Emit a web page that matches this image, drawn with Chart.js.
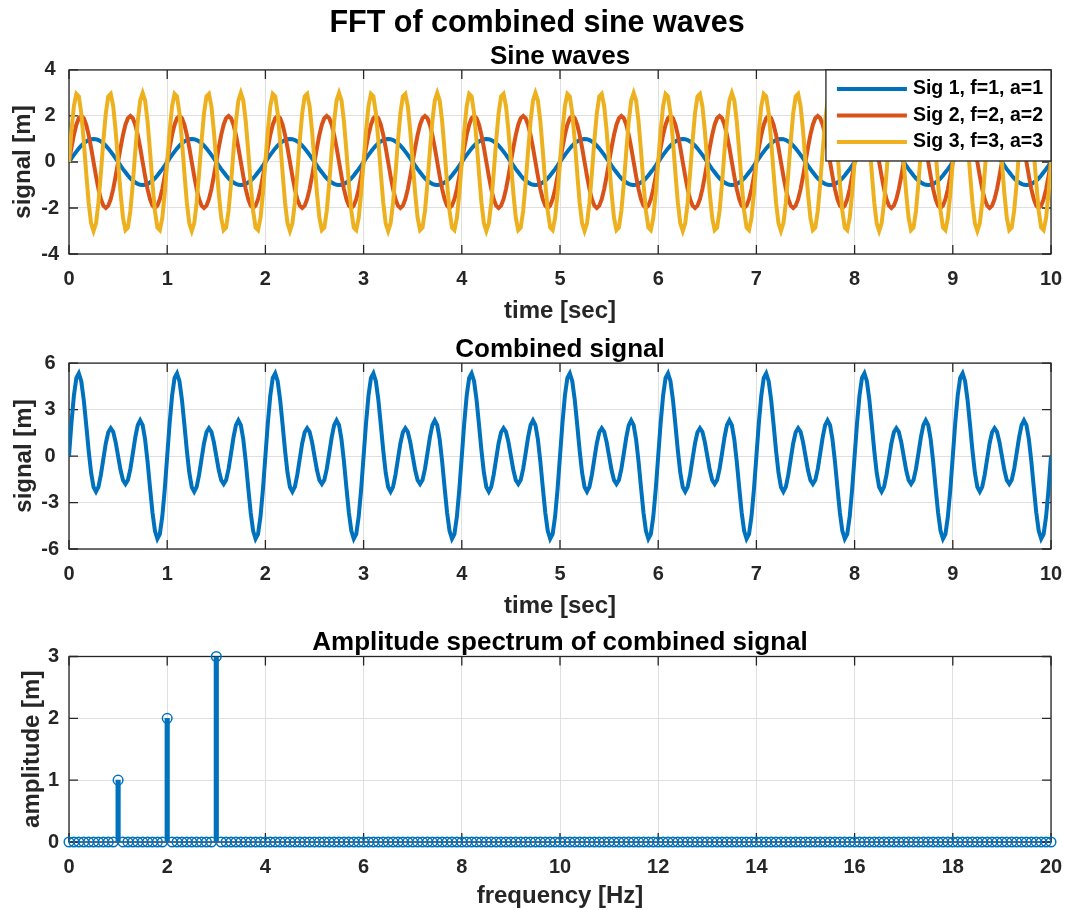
<!DOCTYPE html>
<html>
<head>
<meta charset="utf-8">
<title>FFT of combined sine waves</title>
<script src="https://cdn.jsdelivr.net/npm/chart.js@4.4.0/dist/chart.umd.min.js"></script>
<style>
  body { margin: 0; background: #fff; }
  #fig { position: relative; width: 1065px; height: 910px; overflow: hidden; }
  #fig canvas { position: absolute; left: 0; }
</style>
</head>
<body>
<div id="fig">
  <canvas id="waves" width="1065" height="330" style="top:0"></canvas>
  <canvas id="combined" width="1065" height="290" style="top:330px"></canvas>
  <canvas id="spectrum" width="1065" height="290" style="top:620px"></canvas>
</div>
<script>
// Samples are 40 Hz over 10 s (401 points). Every second looks the same on
// the plot, so each row below is one second of samples as read off it.

const timeSec = [
  0,0.025,0.05,0.075,0.1,0.125,0.15,0.175,0.2,0.225,0.25,0.275,0.3,0.325,0.35,0.375,0.4,0.425,0.45,0.475,0.5,0.525,0.55,0.575,0.6,0.625,0.65,0.675,0.7,0.725,0.75,0.775,0.8,0.825,0.85,0.875,0.9,0.925,0.95,0.975,
  1,1.025,1.05,1.075,1.1,1.125,1.15,1.175,1.2,1.225,1.25,1.275,1.3,1.325,1.35,1.375,1.4,1.425,1.45,1.475,1.5,1.525,1.55,1.575,1.6,1.625,1.65,1.675,1.7,1.725,1.75,1.775,1.8,1.825,1.85,1.875,1.9,1.925,1.95,1.975,
  2,2.025,2.05,2.075,2.1,2.125,2.15,2.175,2.2,2.225,2.25,2.275,2.3,2.325,2.35,2.375,2.4,2.425,2.45,2.475,2.5,2.525,2.55,2.575,2.6,2.625,2.65,2.675,2.7,2.725,2.75,2.775,2.8,2.825,2.85,2.875,2.9,2.925,2.95,2.975,
  3,3.025,3.05,3.075,3.1,3.125,3.15,3.175,3.2,3.225,3.25,3.275,3.3,3.325,3.35,3.375,3.4,3.425,3.45,3.475,3.5,3.525,3.55,3.575,3.6,3.625,3.65,3.675,3.7,3.725,3.75,3.775,3.8,3.825,3.85,3.875,3.9,3.925,3.95,3.975,
  4,4.025,4.05,4.075,4.1,4.125,4.15,4.175,4.2,4.225,4.25,4.275,4.3,4.325,4.35,4.375,4.4,4.425,4.45,4.475,4.5,4.525,4.55,4.575,4.6,4.625,4.65,4.675,4.7,4.725,4.75,4.775,4.8,4.825,4.85,4.875,4.9,4.925,4.95,4.975,
  5,5.025,5.05,5.075,5.1,5.125,5.15,5.175,5.2,5.225,5.25,5.275,5.3,5.325,5.35,5.375,5.4,5.425,5.45,5.475,5.5,5.525,5.55,5.575,5.6,5.625,5.65,5.675,5.7,5.725,5.75,5.775,5.8,5.825,5.85,5.875,5.9,5.925,5.95,5.975,
  6,6.025,6.05,6.075,6.1,6.125,6.15,6.175,6.2,6.225,6.25,6.275,6.3,6.325,6.35,6.375,6.4,6.425,6.45,6.475,6.5,6.525,6.55,6.575,6.6,6.625,6.65,6.675,6.7,6.725,6.75,6.775,6.8,6.825,6.85,6.875,6.9,6.925,6.95,6.975,
  7,7.025,7.05,7.075,7.1,7.125,7.15,7.175,7.2,7.225,7.25,7.275,7.3,7.325,7.35,7.375,7.4,7.425,7.45,7.475,7.5,7.525,7.55,7.575,7.6,7.625,7.65,7.675,7.7,7.725,7.75,7.775,7.8,7.825,7.85,7.875,7.9,7.925,7.95,7.975,
  8,8.025,8.05,8.075,8.1,8.125,8.15,8.175,8.2,8.225,8.25,8.275,8.3,8.325,8.35,8.375,8.4,8.425,8.45,8.475,8.5,8.525,8.55,8.575,8.6,8.625,8.65,8.675,8.7,8.725,8.75,8.775,8.8,8.825,8.85,8.875,8.9,8.925,8.95,8.975,
  9,9.025,9.05,9.075,9.1,9.125,9.15,9.175,9.2,9.225,9.25,9.275,9.3,9.325,9.35,9.375,9.4,9.425,9.45,9.475,9.5,9.525,9.55,9.575,9.6,9.625,9.65,9.675,9.7,9.725,9.75,9.775,9.8,9.825,9.85,9.875,9.9,9.925,9.95,9.975,
  10,
];

// Sig 1, f=1, a=1
const sig1 = [
  0,0.16,0.31,0.45,0.59,0.71,0.81,0.89,0.95,0.99,1,0.99,0.95,0.89,0.81,0.71,0.59,0.45,0.31,0.16,0,-0.16,-0.31,-0.45,-0.59,-0.71,-0.81,-0.89,-0.95,-0.99,-1,-0.99,-0.95,-0.89,-0.81,-0.71,-0.59,-0.45,-0.31,-0.16,
  0,0.16,0.31,0.45,0.59,0.71,0.81,0.89,0.95,0.99,1,0.99,0.95,0.89,0.81,0.71,0.59,0.45,0.31,0.16,0,-0.16,-0.31,-0.45,-0.59,-0.71,-0.81,-0.89,-0.95,-0.99,-1,-0.99,-0.95,-0.89,-0.81,-0.71,-0.59,-0.45,-0.31,-0.16,
  0,0.16,0.31,0.45,0.59,0.71,0.81,0.89,0.95,0.99,1,0.99,0.95,0.89,0.81,0.71,0.59,0.45,0.31,0.16,0,-0.16,-0.31,-0.45,-0.59,-0.71,-0.81,-0.89,-0.95,-0.99,-1,-0.99,-0.95,-0.89,-0.81,-0.71,-0.59,-0.45,-0.31,-0.16,
  0,0.16,0.31,0.45,0.59,0.71,0.81,0.89,0.95,0.99,1,0.99,0.95,0.89,0.81,0.71,0.59,0.45,0.31,0.16,0,-0.16,-0.31,-0.45,-0.59,-0.71,-0.81,-0.89,-0.95,-0.99,-1,-0.99,-0.95,-0.89,-0.81,-0.71,-0.59,-0.45,-0.31,-0.16,
  0,0.16,0.31,0.45,0.59,0.71,0.81,0.89,0.95,0.99,1,0.99,0.95,0.89,0.81,0.71,0.59,0.45,0.31,0.16,0,-0.16,-0.31,-0.45,-0.59,-0.71,-0.81,-0.89,-0.95,-0.99,-1,-0.99,-0.95,-0.89,-0.81,-0.71,-0.59,-0.45,-0.31,-0.16,
  0,0.16,0.31,0.45,0.59,0.71,0.81,0.89,0.95,0.99,1,0.99,0.95,0.89,0.81,0.71,0.59,0.45,0.31,0.16,0,-0.16,-0.31,-0.45,-0.59,-0.71,-0.81,-0.89,-0.95,-0.99,-1,-0.99,-0.95,-0.89,-0.81,-0.71,-0.59,-0.45,-0.31,-0.16,
  0,0.16,0.31,0.45,0.59,0.71,0.81,0.89,0.95,0.99,1,0.99,0.95,0.89,0.81,0.71,0.59,0.45,0.31,0.16,0,-0.16,-0.31,-0.45,-0.59,-0.71,-0.81,-0.89,-0.95,-0.99,-1,-0.99,-0.95,-0.89,-0.81,-0.71,-0.59,-0.45,-0.31,-0.16,
  0,0.16,0.31,0.45,0.59,0.71,0.81,0.89,0.95,0.99,1,0.99,0.95,0.89,0.81,0.71,0.59,0.45,0.31,0.16,0,-0.16,-0.31,-0.45,-0.59,-0.71,-0.81,-0.89,-0.95,-0.99,-1,-0.99,-0.95,-0.89,-0.81,-0.71,-0.59,-0.45,-0.31,-0.16,
  0,0.16,0.31,0.45,0.59,0.71,0.81,0.89,0.95,0.99,1,0.99,0.95,0.89,0.81,0.71,0.59,0.45,0.31,0.16,0,-0.16,-0.31,-0.45,-0.59,-0.71,-0.81,-0.89,-0.95,-0.99,-1,-0.99,-0.95,-0.89,-0.81,-0.71,-0.59,-0.45,-0.31,-0.16,
  0,0.16,0.31,0.45,0.59,0.71,0.81,0.89,0.95,0.99,1,0.99,0.95,0.89,0.81,0.71,0.59,0.45,0.31,0.16,0,-0.16,-0.31,-0.45,-0.59,-0.71,-0.81,-0.89,-0.95,-0.99,-1,-0.99,-0.95,-0.89,-0.81,-0.71,-0.59,-0.45,-0.31,-0.16,
  0,
];

// Sig 2, f=2, a=2
const sig2 = [
  0,0.62,1.18,1.62,1.9,2,1.9,1.62,1.18,0.62,0,-0.62,-1.18,-1.62,-1.9,-2,-1.9,-1.62,-1.18,-0.62,0,0.62,1.18,1.62,1.9,2,1.9,1.62,1.18,0.62,0,-0.62,-1.18,-1.62,-1.9,-2,-1.9,-1.62,-1.18,-0.62,
  0,0.62,1.18,1.62,1.9,2,1.9,1.62,1.18,0.62,0,-0.62,-1.18,-1.62,-1.9,-2,-1.9,-1.62,-1.18,-0.62,0,0.62,1.18,1.62,1.9,2,1.9,1.62,1.18,0.62,0,-0.62,-1.18,-1.62,-1.9,-2,-1.9,-1.62,-1.18,-0.62,
  0,0.62,1.18,1.62,1.9,2,1.9,1.62,1.18,0.62,0,-0.62,-1.18,-1.62,-1.9,-2,-1.9,-1.62,-1.18,-0.62,0,0.62,1.18,1.62,1.9,2,1.9,1.62,1.18,0.62,0,-0.62,-1.18,-1.62,-1.9,-2,-1.9,-1.62,-1.18,-0.62,
  0,0.62,1.18,1.62,1.9,2,1.9,1.62,1.18,0.62,0,-0.62,-1.18,-1.62,-1.9,-2,-1.9,-1.62,-1.18,-0.62,0,0.62,1.18,1.62,1.9,2,1.9,1.62,1.18,0.62,0,-0.62,-1.18,-1.62,-1.9,-2,-1.9,-1.62,-1.18,-0.62,
  0,0.62,1.18,1.62,1.9,2,1.9,1.62,1.18,0.62,0,-0.62,-1.18,-1.62,-1.9,-2,-1.9,-1.62,-1.18,-0.62,0,0.62,1.18,1.62,1.9,2,1.9,1.62,1.18,0.62,0,-0.62,-1.18,-1.62,-1.9,-2,-1.9,-1.62,-1.18,-0.62,
  0,0.62,1.18,1.62,1.9,2,1.9,1.62,1.18,0.62,0,-0.62,-1.18,-1.62,-1.9,-2,-1.9,-1.62,-1.18,-0.62,0,0.62,1.18,1.62,1.9,2,1.9,1.62,1.18,0.62,0,-0.62,-1.18,-1.62,-1.9,-2,-1.9,-1.62,-1.18,-0.62,
  0,0.62,1.18,1.62,1.9,2,1.9,1.62,1.18,0.62,0,-0.62,-1.18,-1.62,-1.9,-2,-1.9,-1.62,-1.18,-0.62,0,0.62,1.18,1.62,1.9,2,1.9,1.62,1.18,0.62,0,-0.62,-1.18,-1.62,-1.9,-2,-1.9,-1.62,-1.18,-0.62,
  0,0.62,1.18,1.62,1.9,2,1.9,1.62,1.18,0.62,0,-0.62,-1.18,-1.62,-1.9,-2,-1.9,-1.62,-1.18,-0.62,0,0.62,1.18,1.62,1.9,2,1.9,1.62,1.18,0.62,0,-0.62,-1.18,-1.62,-1.9,-2,-1.9,-1.62,-1.18,-0.62,
  0,0.62,1.18,1.62,1.9,2,1.9,1.62,1.18,0.62,0,-0.62,-1.18,-1.62,-1.9,-2,-1.9,-1.62,-1.18,-0.62,0,0.62,1.18,1.62,1.9,2,1.9,1.62,1.18,0.62,0,-0.62,-1.18,-1.62,-1.9,-2,-1.9,-1.62,-1.18,-0.62,
  0,0.62,1.18,1.62,1.9,2,1.9,1.62,1.18,0.62,0,-0.62,-1.18,-1.62,-1.9,-2,-1.9,-1.62,-1.18,-0.62,0,0.62,1.18,1.62,1.9,2,1.9,1.62,1.18,0.62,0,-0.62,-1.18,-1.62,-1.9,-2,-1.9,-1.62,-1.18,-0.62,
  0,
];

// Sig 3, f=3, a=3 (spiky tops where a sample lands right on the peak)
const sig3 = [
  0,1.36,2.43,2.96,2.85,2.12,0.93,-0.47,-1.76,-2.67,-3,-2.67,-1.76,-0.47,0.93,2.12,2.85,2.96,2.43,1.36,0,-1.36,-2.43,-2.96,-2.85,-2.12,-0.93,0.47,1.76,2.67,3,2.67,1.76,0.47,-0.93,-2.12,-2.85,-2.96,-2.43,-1.36,
  0,1.36,2.43,2.96,2.85,2.12,0.93,-0.47,-1.76,-2.67,-3,-2.67,-1.76,-0.47,0.93,2.12,2.85,2.96,2.43,1.36,0,-1.36,-2.43,-2.96,-2.85,-2.12,-0.93,0.47,1.76,2.67,3,2.67,1.76,0.47,-0.93,-2.12,-2.85,-2.96,-2.43,-1.36,
  0,1.36,2.43,2.96,2.85,2.12,0.93,-0.47,-1.76,-2.67,-3,-2.67,-1.76,-0.47,0.93,2.12,2.85,2.96,2.43,1.36,0,-1.36,-2.43,-2.96,-2.85,-2.12,-0.93,0.47,1.76,2.67,3,2.67,1.76,0.47,-0.93,-2.12,-2.85,-2.96,-2.43,-1.36,
  0,1.36,2.43,2.96,2.85,2.12,0.93,-0.47,-1.76,-2.67,-3,-2.67,-1.76,-0.47,0.93,2.12,2.85,2.96,2.43,1.36,0,-1.36,-2.43,-2.96,-2.85,-2.12,-0.93,0.47,1.76,2.67,3,2.67,1.76,0.47,-0.93,-2.12,-2.85,-2.96,-2.43,-1.36,
  0,1.36,2.43,2.96,2.85,2.12,0.93,-0.47,-1.76,-2.67,-3,-2.67,-1.76,-0.47,0.93,2.12,2.85,2.96,2.43,1.36,0,-1.36,-2.43,-2.96,-2.85,-2.12,-0.93,0.47,1.76,2.67,3,2.67,1.76,0.47,-0.93,-2.12,-2.85,-2.96,-2.43,-1.36,
  0,1.36,2.43,2.96,2.85,2.12,0.93,-0.47,-1.76,-2.67,-3,-2.67,-1.76,-0.47,0.93,2.12,2.85,2.96,2.43,1.36,0,-1.36,-2.43,-2.96,-2.85,-2.12,-0.93,0.47,1.76,2.67,3,2.67,1.76,0.47,-0.93,-2.12,-2.85,-2.96,-2.43,-1.36,
  0,1.36,2.43,2.96,2.85,2.12,0.93,-0.47,-1.76,-2.67,-3,-2.67,-1.76,-0.47,0.93,2.12,2.85,2.96,2.43,1.36,0,-1.36,-2.43,-2.96,-2.85,-2.12,-0.93,0.47,1.76,2.67,3,2.67,1.76,0.47,-0.93,-2.12,-2.85,-2.96,-2.43,-1.36,
  0,1.36,2.43,2.96,2.85,2.12,0.93,-0.47,-1.76,-2.67,-3,-2.67,-1.76,-0.47,0.93,2.12,2.85,2.96,2.43,1.36,0,-1.36,-2.43,-2.96,-2.85,-2.12,-0.93,0.47,1.76,2.67,3,2.67,1.76,0.47,-0.93,-2.12,-2.85,-2.96,-2.43,-1.36,
  0,1.36,2.43,2.96,2.85,2.12,0.93,-0.47,-1.76,-2.67,-3,-2.67,-1.76,-0.47,0.93,2.12,2.85,2.96,2.43,1.36,0,-1.36,-2.43,-2.96,-2.85,-2.12,-0.93,0.47,1.76,2.67,3,2.67,1.76,0.47,-0.93,-2.12,-2.85,-2.96,-2.43,-1.36,
  0,1.36,2.43,2.96,2.85,2.12,0.93,-0.47,-1.76,-2.67,-3,-2.67,-1.76,-0.47,0.93,2.12,2.85,2.96,2.43,1.36,0,-1.36,-2.43,-2.96,-2.85,-2.12,-0.93,0.47,1.76,2.67,3,2.67,1.76,0.47,-0.93,-2.12,-2.85,-2.96,-2.43,-1.36,
  0,
];

// Combined signal (middle panel)
const combined = [
  0,2.14,3.91,5.04,5.34,4.83,3.64,2.04,0.36,-1.07,-2,-2.3,-1.99,-1.2,-0.17,0.83,1.54,1.8,1.56,0.9,0,-0.9,-1.56,-1.8,-1.54,-0.83,0.17,1.2,1.99,2.3,2,1.07,-0.36,-2.04,-3.64,-4.83,-5.34,-5.04,-3.91,-2.14,
  0,2.14,3.91,5.04,5.34,4.83,3.64,2.04,0.36,-1.07,-2,-2.3,-1.99,-1.2,-0.17,0.83,1.54,1.8,1.56,0.9,0,-0.9,-1.56,-1.8,-1.54,-0.83,0.17,1.2,1.99,2.3,2,1.07,-0.36,-2.04,-3.64,-4.83,-5.34,-5.04,-3.91,-2.14,
  0,2.14,3.91,5.04,5.34,4.83,3.64,2.04,0.36,-1.07,-2,-2.3,-1.99,-1.2,-0.17,0.83,1.54,1.8,1.56,0.9,0,-0.9,-1.56,-1.8,-1.54,-0.83,0.17,1.2,1.99,2.3,2,1.07,-0.36,-2.04,-3.64,-4.83,-5.34,-5.04,-3.91,-2.14,
  0,2.14,3.91,5.04,5.34,4.83,3.64,2.04,0.36,-1.07,-2,-2.3,-1.99,-1.2,-0.17,0.83,1.54,1.8,1.56,0.9,0,-0.9,-1.56,-1.8,-1.54,-0.83,0.17,1.2,1.99,2.3,2,1.07,-0.36,-2.04,-3.64,-4.83,-5.34,-5.04,-3.91,-2.14,
  0,2.14,3.91,5.04,5.34,4.83,3.64,2.04,0.36,-1.07,-2,-2.3,-1.99,-1.2,-0.17,0.83,1.54,1.8,1.56,0.9,0,-0.9,-1.56,-1.8,-1.54,-0.83,0.17,1.2,1.99,2.3,2,1.07,-0.36,-2.04,-3.64,-4.83,-5.34,-5.04,-3.91,-2.14,
  0,2.14,3.91,5.04,5.34,4.83,3.64,2.04,0.36,-1.07,-2,-2.3,-1.99,-1.2,-0.17,0.83,1.54,1.8,1.56,0.9,0,-0.9,-1.56,-1.8,-1.54,-0.83,0.17,1.2,1.99,2.3,2,1.07,-0.36,-2.04,-3.64,-4.83,-5.34,-5.04,-3.91,-2.14,
  0,2.14,3.91,5.04,5.34,4.83,3.64,2.04,0.36,-1.07,-2,-2.3,-1.99,-1.2,-0.17,0.83,1.54,1.8,1.56,0.9,0,-0.9,-1.56,-1.8,-1.54,-0.83,0.17,1.2,1.99,2.3,2,1.07,-0.36,-2.04,-3.64,-4.83,-5.34,-5.04,-3.91,-2.14,
  0,2.14,3.91,5.04,5.34,4.83,3.64,2.04,0.36,-1.07,-2,-2.3,-1.99,-1.2,-0.17,0.83,1.54,1.8,1.56,0.9,0,-0.9,-1.56,-1.8,-1.54,-0.83,0.17,1.2,1.99,2.3,2,1.07,-0.36,-2.04,-3.64,-4.83,-5.34,-5.04,-3.91,-2.14,
  0,2.14,3.91,5.04,5.34,4.83,3.64,2.04,0.36,-1.07,-2,-2.3,-1.99,-1.2,-0.17,0.83,1.54,1.8,1.56,0.9,0,-0.9,-1.56,-1.8,-1.54,-0.83,0.17,1.2,1.99,2.3,2,1.07,-0.36,-2.04,-3.64,-4.83,-5.34,-5.04,-3.91,-2.14,
  0,2.14,3.91,5.04,5.34,4.83,3.64,2.04,0.36,-1.07,-2,-2.3,-1.99,-1.2,-0.17,0.83,1.54,1.8,1.56,0.9,0,-0.9,-1.56,-1.8,-1.54,-0.83,0.17,1.2,1.99,2.3,2,1.07,-0.36,-2.04,-3.64,-4.83,-5.34,-5.04,-3.91,-2.14,
  0,
];

// Spectrum bins, 0.1 Hz apart (one row per Hz)
const freqHz = [
  0,0.1,0.2,0.3,0.4,0.5,0.6,0.7,0.8,0.9,
  1,1.1,1.2,1.3,1.4,1.5,1.6,1.7,1.8,1.9,
  2,2.1,2.2,2.3,2.4,2.5,2.6,2.7,2.8,2.9,
  3,3.1,3.2,3.3,3.4,3.5,3.6,3.7,3.8,3.9,
  4,4.1,4.2,4.3,4.4,4.5,4.6,4.7,4.8,4.9,
  5,5.1,5.2,5.3,5.4,5.5,5.6,5.7,5.8,5.9,
  6,6.1,6.2,6.3,6.4,6.5,6.6,6.7,6.8,6.9,
  7,7.1,7.2,7.3,7.4,7.5,7.6,7.7,7.8,7.9,
  8,8.1,8.2,8.3,8.4,8.5,8.6,8.7,8.8,8.9,
  9,9.1,9.2,9.3,9.4,9.5,9.6,9.7,9.8,9.9,
  10,10.1,10.2,10.3,10.4,10.5,10.6,10.7,10.8,10.9,
  11,11.1,11.2,11.3,11.4,11.5,11.6,11.7,11.8,11.9,
  12,12.1,12.2,12.3,12.4,12.5,12.6,12.7,12.8,12.9,
  13,13.1,13.2,13.3,13.4,13.5,13.6,13.7,13.8,13.9,
  14,14.1,14.2,14.3,14.4,14.5,14.6,14.7,14.8,14.9,
  15,15.1,15.2,15.3,15.4,15.5,15.6,15.7,15.8,15.9,
  16,16.1,16.2,16.3,16.4,16.5,16.6,16.7,16.8,16.9,
  17,17.1,17.2,17.3,17.4,17.5,17.6,17.7,17.8,17.9,
  18,18.1,18.2,18.3,18.4,18.5,18.6,18.7,18.8,18.9,
  19,19.1,19.2,19.3,19.4,19.5,19.6,19.7,19.8,19.9,
  20,
];

const amplitude = [
  0,0,0,0,0,0,0,0,0,0,
  1,0,0,0,0,0,0,0,0,0,
  2,0,0,0,0,0,0,0,0,0,
  3,0,0,0,0,0,0,0,0,0,
  0,0,0,0,0,0,0,0,0,0,
  0,0,0,0,0,0,0,0,0,0,
  0,0,0,0,0,0,0,0,0,0,
  0,0,0,0,0,0,0,0,0,0,
  0,0,0,0,0,0,0,0,0,0,
  0,0,0,0,0,0,0,0,0,0,
  0,0,0,0,0,0,0,0,0,0,
  0,0,0,0,0,0,0,0,0,0,
  0,0,0,0,0,0,0,0,0,0,
  0,0,0,0,0,0,0,0,0,0,
  0,0,0,0,0,0,0,0,0,0,
  0,0,0,0,0,0,0,0,0,0,
  0,0,0,0,0,0,0,0,0,0,
  0,0,0,0,0,0,0,0,0,0,
  0,0,0,0,0,0,0,0,0,0,
  0,0,0,0,0,0,0,0,0,0,
  0,
];

const waveLabels = ["Sig 1, f=1, a=1", "Sig 2, f=2, a=2", "Sig 3, f=3, a=3"];

const timeTicks = [0, 1, 2, 3, 4, 5, 6, 7, 8, 9, 10];
const freqTicks = [0, 2, 4, 6, 8, 10, 12, 14, 16, 18, 20];
const waveTicks = [-4, -2, 0, 2, 4];
const combinedTicks = [-6, -3, 0, 3, 6];
const ampTicks = [0, 1, 2, 3];

// ── Styling ───────────────────────────────────────────────────────

const INK = "#262626";
const GRID = "#dfdfdf";
const BLUE = "#0072bd";
const ORANGE = "#d95319";
const YELLOW = "#edb120";
const FONT = "'Liberation Sans', Arial, Helvetica, sans-serif";
const AXIS_LEFT = 69;   // left edge of every axes box

Chart.defaults.font.family = FONT;
Chart.defaults.font.weight = "bold";
Chart.defaults.color = INK;

const toXY = (xs, ys) => xs.map((x, i) => ({ x, y: ys[i] }));

function xAxis(ticks, title, o) {
  return {
    type: "linear",
    min: ticks[0],
    max: ticks[ticks.length - 1],
    offset: false,
    afterBuildTicks: (s) => { s.ticks = ticks.map((v) => ({ value: v })); },
    afterFit: (s) => { s.height = o.height; s.paddingLeft = 0; s.paddingRight = 0; },
    grid: { color: GRID, lineWidth: 1, drawTicks: false, offset: false },
    border: { display: false },
    ticks: { color: INK, font: { size: 20, weight: "bold" }, padding: o.tickPad, maxRotation: 0, autoSkip: false },
    title: {
      display: true, text: title, color: INK,
      font: { size: 24, weight: "bold", lineHeight: 1.2 },
      padding: { top: 0, bottom: o.titlePad },
    },
  };
}

// leftPad = layout padding left of the chart, so the scale box is narrower by that much
function yAxis(ticks, title, titlePad, leftPad) {
  return {
    type: "linear",
    min: ticks[0],
    max: ticks[ticks.length - 1],
    afterBuildTicks: (s) => { s.ticks = ticks.map((v) => ({ value: v })); },
    afterFit: (s) => { s.width = AXIS_LEFT - leftPad; s.paddingTop = 0; s.paddingBottom = 0; },
    grid: { color: GRID, lineWidth: 1, drawTicks: false },
    border: { display: false },
    ticks: { color: INK, font: { size: 20, weight: "bold" }, padding: 10, crossAlign: "center" },
    title: {
      display: true, text: title, color: INK,
      font: { size: 24, weight: "bold", lineHeight: 1.2 },
      padding: { top: titlePad, bottom: 0 },
    },
  };
}

function plotTitle(text, top, bottom) {
  return {
    display: true, text, color: "#000", fullSize: false,
    font: { size: 26, weight: "bold", lineHeight: 1.1 },
    padding: { top, bottom },
  };
}

// MATLAB-style box with inward ticks on all four sides
const axesBox = {
  id: "axesBox",
  beforeDatasetsDraw(chart) {
    const { ctx, chartArea: a, scales: { x, y } } = chart;
    const len = 9;
    ctx.save();
    ctx.strokeStyle = INK;
    ctx.lineWidth = 1.3;
    ctx.beginPath();
    x.ticks.forEach((t) => {
      const px = x.getPixelForValue(t.value);
      ctx.moveTo(px, a.bottom); ctx.lineTo(px, a.bottom - len);
      ctx.moveTo(px, a.top); ctx.lineTo(px, a.top + len);
    });
    y.ticks.forEach((t) => {
      const py = y.getPixelForValue(t.value);
      ctx.moveTo(a.left, py); ctx.lineTo(a.left + len, py);
      ctx.moveTo(a.right, py); ctx.lineTo(a.right - len, py);
    });
    ctx.stroke();
    ctx.strokeRect(a.left, a.top, a.right - a.left, a.bottom - a.top);
    ctx.restore();
  },
};

// Legend boxed in the top-right corner of the axes
const insideLegend = {
  id: "insideLegend",
  afterDraw(chart) {
    const { ctx, chartArea } = chart;
    const sets = chart.data.datasets;
    const rowH = 26.5, padL = 11, lineLen = 70, gap = 6, padR = 8, padY = 5.75;
    ctx.save();
    ctx.font = `bold 19.5px ${FONT}`;
    const textW = Math.max(...sets.map((d) => ctx.measureText(d.label).width));
    const w = padL + lineLen + gap + textW + padR;
    const h = padY * 2 + rowH * sets.length;
    const left = chartArea.right - w;
    const top = chartArea.top;
    ctx.fillStyle = "#fff";
    ctx.fillRect(left, top, w, h);
    ctx.strokeStyle = INK;
    ctx.lineWidth = 1.3;
    ctx.strokeRect(left, top, w, h);
    sets.forEach((d, i) => {
      const cy = top + padY + rowH * (i + 0.5);
      ctx.strokeStyle = d.borderColor;
      ctx.lineWidth = 4;
      ctx.beginPath();
      ctx.moveTo(left + padL, cy);
      ctx.lineTo(left + padL + lineLen, cy);
      ctx.stroke();
      ctx.fillStyle = "#000";
      ctx.textAlign = "left";
      ctx.textBaseline = "middle";
      ctx.fillText(d.label, left + padL + lineLen + gap, cy);
    });
    ctx.restore();
  },
};

function baseOptions(leftPad) {
  return {
    responsive: false,
    devicePixelRatio: 1,
    animation: false,
    events: [],
    layout: { padding: { left: leftPad, right: 14, top: 0, bottom: 0 } },
  };
}

function waveLine(label, values, color, order) {
  return {
    label, data: toXY(timeSec, values), order,
    borderColor: color, backgroundColor: color,
    borderWidth: 4, pointRadius: 0, tension: 0, fill: false,
  };
}

// ── Sine waves ────────────────────────────────────────────────────
// the figure title sits centred on the whole figure, so this chart keeps a
// 23px left padding and a narrower y scale (axes still start at x=69)

new Chart(document.getElementById("waves"), {
  type: "line",
  data: {
    datasets: [
      waveLine(waveLabels[0], sig1, BLUE, 3),
      waveLine(waveLabels[1], sig2, ORANGE, 2),
      waveLine(waveLabels[2], sig3, YELLOW, 1),
    ],
  },
  options: {
    ...baseOptions(23),
    plugins: {
      legend: { display: false },
      tooltip: { enabled: false },
      title: {
        display: true, text: "FFT of combined sine waves", color: "#000",
        font: { size: 30.5, weight: "bold", lineHeight: 1.1 }, padding: { top: 7, bottom: 0 },
      },
      subtitle: plotTitle("Sine waves", 1.6, -0.8),
    },
    scales: {
      x: xAxis(timeTicks, "time [sec]", { height: 76, tickPad: 13, titlePad: 4 }),
      y: yAxis(waveTicks, "signal [m]", -14.5, 23),
    },
  },
  plugins: [axesBox, insideLegend],
});

// ── Combined signal ───────────────────────────────────────────────

new Chart(document.getElementById("combined"), {
  type: "line",
  data: {
    datasets: [waveLine("Combined", combined, BLUE, 0)],
  },
  options: {
    ...baseOptions(0),
    plugins: {
      legend: { display: false },
      tooltip: { enabled: false },
      title: plotTitle("Combined signal", 6, -1.5),
    },
    scales: {
      x: xAxis(timeTicks, "time [sec]", { height: 71, tickPad: 13, titlePad: -1 }),
      y: yAxis(combinedTicks, "signal [m]", 9.6, 0),
    },
  },
  plugins: [axesBox],
});

// ── Amplitude spectrum (stems + open circles) ─────────────────────

new Chart(document.getElementById("spectrum"), {
  type: "scatter",
  data: {
    datasets: [
      {
        type: "scatter",
        label: "markers",
        data: toXY(freqHz, amplitude),
        order: 0,
        showLine: false,
        pointStyle: "circle",
        pointRadius: 4.8,
        pointBorderWidth: 1.5,
        borderColor: BLUE,
        backgroundColor: "rgba(0,0,0,0)",
        clip: false,
      },
      {
        type: "bar",
        label: "stems",
        data: toXY(freqHz, amplitude),
        order: 1,
        barThickness: 4.5,
        backgroundColor: BLUE,
        borderWidth: 0,
      },
    ],
  },
  options: {
    ...baseOptions(0),
    plugins: {
      legend: { display: false },
      tooltip: { enabled: false },
      title: plotTitle("Amplitude spectrum of combined signal", 8.9, -1),
    },
    scales: {
      x: xAxis(freqTicks, "frequency [Hz]", { height: 68, tickPad: 13, titlePad: -1 }),
      y: yAxis(ampTicks, "amplitude [m]", 17.6, 0),
    },
  },
  plugins: [axesBox],
});
</script>
</body>
</html>
